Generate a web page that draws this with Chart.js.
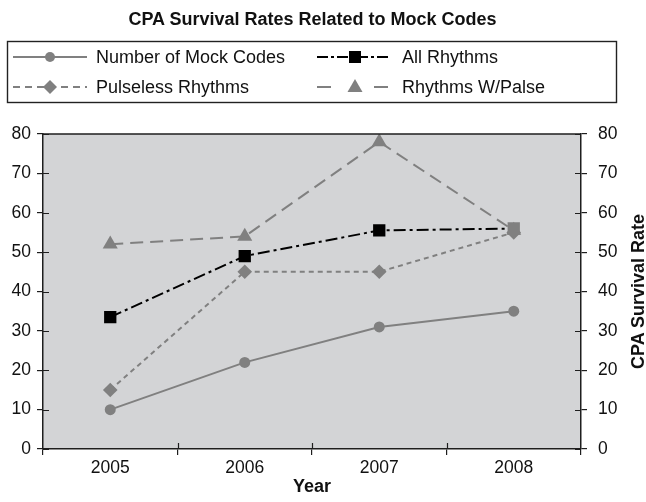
<!DOCTYPE html>
<html>
<head>
<meta charset="utf-8">
<script src="https://cdn.jsdelivr.net/npm/chart.js@4/dist/chart.umd.min.js"></script>
<style>
  html, body { margin: 0; padding: 0; background: #fff; }
  #wrap { position: relative; width: 646px; height: 502px; overflow: hidden; }
  #c { position: absolute; left: 0; top: 0; }
  #overlay { position: absolute; left: 0; top: 0; pointer-events: none; }
  text { font-family: "Liberation Sans", Arial, sans-serif; fill: #111; }
</style>
</head>
<body>
<div id="wrap">
  <canvas id="c" width="646" height="502"></canvas>
  <svg id="overlay" width="646" height="502" xmlns="http://www.w3.org/2000/svg">
    <text x="312.5" y="25" text-anchor="middle" font-weight="bold" font-size="18">CPA Survival Rates Related to Mock Codes</text>
    <rect x="7.5" y="41.5" width="609" height="61" fill="#fff" stroke="#222" stroke-width="1.4"/>
    <!-- Number of Mock Codes -->
    <line x1="13" y1="57" x2="87" y2="57" stroke="#808080" stroke-width="2"/>
    <circle cx="50" cy="57" r="5" fill="#808080"/>
    <text x="96" y="63" font-size="18">Number of Mock Codes</text>
    <!-- Pulseless Rhythms -->
    <line x1="13" y1="87" x2="87" y2="87" stroke="#808080" stroke-width="2" stroke-dasharray="7,5"/>
    <path d="M50 80 L57 87 L50 94 L43 87 Z" fill="#808080"/>
    <text x="96" y="93" font-size="18">Pulseless Rhythms</text>
    <!-- All Rhythms -->
    <line x1="317" y1="57" x2="388" y2="57" stroke="#000" stroke-width="2" stroke-dasharray="11,3,3,3"/>
    <rect x="349" y="51" width="12" height="12" fill="#000"/>
    <text x="402" y="63" font-size="18">All Rhythms</text>
    <!-- Rhythms W/Palse -->
    <line x1="317" y1="87" x2="331" y2="87" stroke="#808080" stroke-width="2"/>
    <line x1="374" y1="87" x2="388" y2="87" stroke="#808080" stroke-width="2"/>
    <path d="M355 79 L362.5 92 L347.5 92 Z" fill="#808080"/>
    <text x="402" y="93" font-size="18">Rhythms W/Palse</text>
    <!-- right axis title -->
    <text transform="translate(644,291.5) rotate(-90)" text-anchor="middle" font-weight="bold" font-size="18">CPA Survival Rate</text>
  </svg>
</div>
<script>
// Survival data by year
const years = ['2005', '2006', '2007', '2008'];
const mockCodes = [10, 22, 31, 35];
const allRhythms = [33.5, 49, 55.5, 56];
const pulselessRhythms = [15, 45, 45, 55];
const rhythmsWithPulse = [52, 54, 78, 55.5];
const yMin = 0, yMax = 80, yStep = 10;

const GRAY = '#808080';
const AXIS = '#1e1e1e';
const TICK_FONT = { family: '"Liberation Sans", Arial, sans-serif', size: 17.5 };

// Gray plot background, top frame line and the inner halves of the tick marks
const plotFrame = {
  id: 'plotFrame',
  beforeDraw(chart) {
    const { ctx, chartArea: a } = chart;
    ctx.save();
    ctx.fillStyle = '#d3d4d6';
    ctx.fillRect(a.left, a.top, a.right - a.left, a.bottom - a.top);
    ctx.restore();
  },
  afterDraw(chart) {
    const { ctx, chartArea: a, scales } = chart;
    ctx.save();
    ctx.strokeStyle = AXIS;
    ctx.lineWidth = 1.5;
    ctx.beginPath();
    ctx.moveTo(a.left, a.top);
    ctx.lineTo(a.right, a.top);
    ctx.stroke();
    ctx.lineWidth = 1.2;
    ctx.beginPath();
    const yl = scales.y, yr = scales.y2, x = scales.x;
    yl.ticks.forEach((t, i) => {
      const py = Math.round(yl.getPixelForTick(i)) + 0.5;
      ctx.moveTo(a.left, py); ctx.lineTo(a.left + 6, py);
    });
    yr.ticks.forEach((t, i) => {
      const py = Math.round(yr.getPixelForTick(i)) + 0.5;
      ctx.moveTo(a.right - 6, py); ctx.lineTo(a.right, py);
    });
    for (let i = 1; i < years.length; i++) {
      const px = Math.round((x.getPixelForValue(i - 1) + x.getPixelForValue(i)) / 2) + 0.5;
      ctx.moveTo(px, a.bottom); ctx.lineTo(px, a.bottom - 6);
    }
    ctx.stroke();
    ctx.restore();
  }
};

const yAxisBase = {
  type: 'linear',
  min: yMin,
  max: yMax,
  ticks: { stepSize: yStep, color: '#111', font: TICK_FONT },
  grid: { drawOnChartArea: false, drawTicks: true, tickLength: 6, color: AXIS, lineWidth: 1.2 },
  border: { display: true, color: AXIS, width: 1.5 }
};

// The last All Rhythms marker sits under the gray markers and is shaded gray
const allRhythmsMarker = allRhythms.map((v, i) => (i === allRhythms.length - 1 ? GRAY : '#000'));

new Chart(document.getElementById('c'), {
  type: 'line',
  data: {
    labels: years,
    datasets: [
      {
        label: 'All Rhythms',
        data: allRhythms,
        borderColor: '#000', backgroundColor: '#000',
        borderWidth: 2, borderDash: [12, 4, 3, 4],
        pointStyle: 'rect', pointRadius: 8.7,
        pointBackgroundColor: allRhythmsMarker, pointBorderColor: allRhythmsMarker, pointBorderWidth: 0
      },
      {
        label: 'Number of Mock Codes',
        data: mockCodes,
        borderColor: GRAY, backgroundColor: GRAY,
        borderWidth: 2,
        pointStyle: 'circle', pointRadius: 5.5,
        pointBackgroundColor: GRAY, pointBorderColor: GRAY, pointBorderWidth: 0
      },
      {
        label: 'Pulseless Rhythms',
        data: pulselessRhythms,
        borderColor: GRAY, backgroundColor: GRAY,
        borderWidth: 2, borderDash: [5, 4],
        pointStyle: 'rectRot', pointRadius: 7.3,
        pointBackgroundColor: GRAY, pointBorderColor: GRAY, pointBorderWidth: 0
      },
      {
        label: 'Rhythms W/Palse',
        data: rhythmsWithPulse,
        borderColor: GRAY, backgroundColor: GRAY,
        borderWidth: 2, borderDash: [13, 7],
        pointStyle: 'triangle', pointRadius: 8.7,
        pointBackgroundColor: GRAY, pointBorderColor: GRAY, pointBorderWidth: 0
      }
    ]
  },
  options: {
    responsive: false,
    animation: false,
    devicePixelRatio: 1,
    layout: { padding: { top: 134, left: 0, right: 0, bottom: 0 } },
    plugins: {
      legend: { display: false },
      title: { display: false },
      tooltip: { enabled: false }
    },
    elements: { line: { tension: 0 } },
    scales: {
      x: {
        type: 'category',
        offset: true,
        ticks: { color: '#111', font: TICK_FONT, padding: 3, maxRotation: 0 },
        grid: { offset: true, drawOnChartArea: false, drawTicks: true, tickLength: 6, color: AXIS, lineWidth: 1.2 },
        border: { display: true, color: AXIS, width: 1.5 },
        title: {
          display: true, text: 'Year', color: '#111',
          font: { family: '"Liberation Sans", Arial, sans-serif', size: 18, weight: 'bold' },
          padding: { top: 0, bottom: 4 }
        },
        afterFit(s) { s.height = 53; }
      },
      y: Object.assign({}, yAxisBase, {
        position: 'left',
        ticks: Object.assign({}, yAxisBase.ticks, { padding: 6 }),
        afterFit(s) { s.width = 43; }
      }),
      y2: Object.assign({}, yAxisBase, {
        position: 'right',
        ticks: Object.assign({}, yAxisBase.ticks, { padding: 11 }),
        afterFit(s) { s.width = 65; }
      })
    }
  },
  plugins: [plotFrame]
});
</script>
</body>
</html>
